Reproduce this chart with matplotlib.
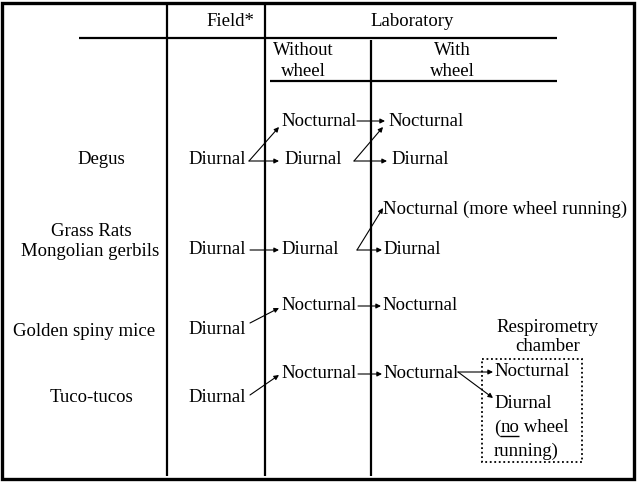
import matplotlib.pyplot as plt
from matplotlib.patches import Rectangle

plt.rcParams['font.family'] = ['Liberation Serif', 'DejaVu Serif']

# table content
species = ['Degus', 'Grass Rats', 'Mongolian gerbils', 'Golden spiny mice', 'Tuco-tucos']
field_state = ['Diurnal', 'Diurnal', 'Diurnal', 'Diurnal']
without_wheel = [['Nocturnal', 'Diurnal'], ['Diurnal'], ['Nocturnal'], ['Nocturnal']]
with_wheel = [['Nocturnal', 'Diurnal'], ['Nocturnal (more wheel running)', 'Diurnal'],
              ['Nocturnal'], ['Nocturnal']]
chamber = ['Nocturnal', 'Diurnal']
headers = ['Field*', 'Laboratory', 'Without\nwheel', 'With\nwheel', 'Respirometry\nchamber']

fs = 13.5
fig = plt.figure(figsize=(6.38, 4.87), dpi=100)
ax = fig.add_axes([0, 0, 1, 1])
ax.set_xlim(0, 638)
ax.set_ylim(487, 0)
ax.axis('off')

def line(x, y, lw=1.6):
    ax.plot(x, y, color='black', lw=lw, solid_capstyle='butt')

def arrow(x0, y0, x1, y1):
    ax.annotate('', xy=(x1, y1), xytext=(x0, y0),
                arrowprops=dict(arrowstyle='-|>', color='black', lw=0.8,
                                mutation_scale=7, shrinkA=0, shrinkB=0))

def txt(x, y, s, ha='left', **kw):
    ax.text(x, y, s, fontsize=fs, ha=ha, va='center', **kw)

# frame and grid
ax.add_patch(Rectangle((2, 3), 632, 476, fill=False, lw=2.4, ec='black'))
line([167, 167], [4, 476])
line([265, 265], [4, 476])
line([371, 371], [40, 476])
line([79, 557], [38, 38])
line([270, 557], [81, 81])

# headers
txt(230, 22, headers[0], ha='center')
txt(412, 22, headers[1], ha='center')
txt(303, 61, headers[2], ha='center', linespacing=1.25)
txt(452, 61, headers[3], ha='center', linespacing=1.25)
txt(548, 337, headers[4], ha='center', linespacing=1.2)

# species names
for sp, x, y in zip(species, [101, 91, 90, 84, 92], [160, 231, 252, 331, 397]):
    txt(x, y, sp, ha='center')

# field column
for fd, y in zip(field_state, [160, 250, 330, 397]):
    txt(188, y, fd)

# Degus
txt(281, 121, without_wheel[0][0])
txt(284, 160, without_wheel[0][1])
txt(388, 121, with_wheel[0][0])
txt(391, 160, with_wheel[0][1])
arrow(249, 161, 279, 127)
arrow(249, 161, 279, 161)
arrow(357, 121, 385, 121)
arrow(354, 161, 383, 127)
arrow(354, 161, 387, 161)

# Grass rats / gerbils
txt(281, 250, without_wheel[1][0])
txt(383, 209, with_wheel[1][0])
txt(383, 250, with_wheel[1][1])
arrow(250, 250, 279, 250)
arrow(357, 250, 383, 208)
arrow(357, 250, 382, 250)

# Golden spiny mice
txt(281, 306, without_wheel[2][0])
txt(382, 306, with_wheel[2][0])
arrow(250, 323, 279, 308)
arrow(358, 306, 381, 306)

# Tuco-tucos
txt(281, 374, without_wheel[3][0])
txt(383, 374, with_wheel[3][0])
arrow(250, 395, 279, 375)
arrow(358, 374, 382, 374)
arrow(458, 372, 493, 372)
arrow(458, 372, 493, 398)

# respirometry chamber
ax.add_patch(Rectangle((482, 359), 100, 103, fill=False, lw=1.3, ls=(0, (1, 1.5)), ec='black'))
txt(494, 372, chamber[0])
txt(494, 403, chamber[1])
t1 = ax.text(494, 428, '(', fontsize=fs, va='center')
fig.canvas.draw()
r = fig.canvas.get_renderer()
inv = ax.transData.inverted()
bb = t1.get_window_extent(r)
x_no = inv.transform((bb.x1, 0))[0]
t2 = ax.text(x_no, 428, 'no', fontsize=fs, va='center')
bb2 = t2.get_window_extent(r)
x_end = inv.transform((bb2.x1, 0))[0]
line([x_no, x_end], [436, 436], lw=1.0)
ax.text(x_end, 428, ' wheel', fontsize=fs, va='center')
txt(494, 451, 'running)')

fig.savefig('out.png', dpi=100)
